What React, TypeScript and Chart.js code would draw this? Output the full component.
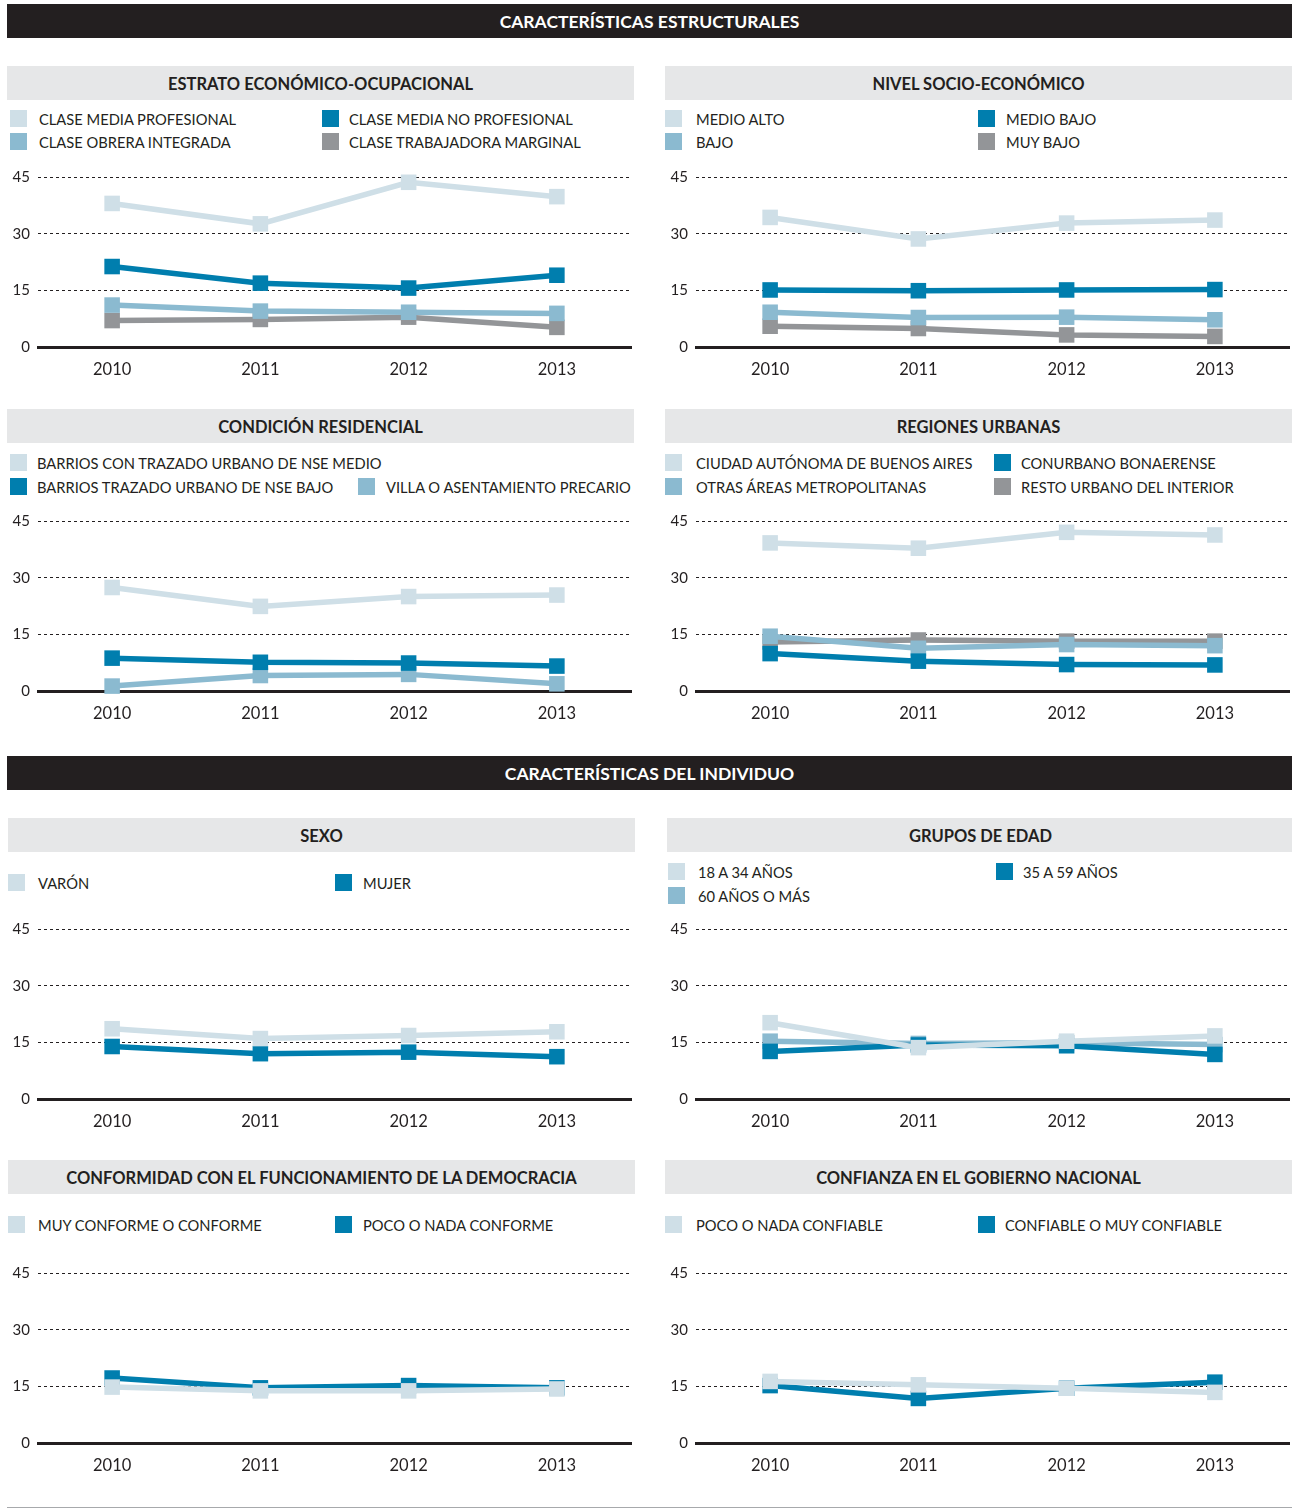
import React, { useEffect, useRef } from "react";
import { Chart, registerables } from "chart.js";
Chart.register(...registerables);

const years = ["2010", "2011", "2012", "2013"];
const yTickValues = [0, 15, 30, 45];

const LIGHT = "#cfdfe7";
const DARK = "#007eae";
const MID = "#8bbad0";
const GRAY = "#939598";
const INK = "#231f20";
const FONT = "Lato, 'Open Sans', sans-serif";

// Estrato económico-ocupacional
const claseMediaProfesional = [38.0, 32.6, 43.6, 39.8];
const claseMediaNoProfesional = [21.3, 16.9, 15.6, 19.0];
const claseObreraIntegrada = [11.1, 9.5, 9.2, 8.9];
const claseTrabajadoraMarginal = [7.0, 7.3, 7.9, 5.2];
// Nivel socio-económico
const medioAlto = [34.3, 28.6, 32.8, 33.6];
const medioBajo = [15.1, 14.9, 15.1, 15.2];
const bajo = [9.2, 7.8, 7.9, 7.2];
const muyBajo = [5.5, 4.9, 3.2, 2.8];
// Condición residencial
const nseMedio = [27.4, 22.4, 25.0, 25.4];
const nseBajo = [8.7, 7.6, 7.4, 6.6];
const villa = [1.3, 4.1, 4.4, 1.9];
// Regiones urbanas
const caba = [39.2, 37.8, 42.0, 41.3];
const conurbano = [9.9, 7.9, 7.0, 6.9];
const otrasAreas = [14.5, 11.3, 12.3, 12.0];
const restoInterior = [13.0, 13.5, 13.2, 13.2];
// Sexo
const varon = [18.6, 16.0, 16.8, 17.8];
const mujer = [13.9, 12.0, 12.4, 11.2];
// Grupos de edad
const edad18a34 = [20.2, 13.6, 15.3, 16.7];
const edad35a59 = [12.6, 14.3, 14.1, 11.8];
const edad60mas = [15.3, 14.7, 14.9, 14.4];
// Conformidad con la democracia
const muyConforme = [14.8, 13.8, 13.8, 14.3];
const pocoConforme = [17.2, 14.6, 15.2, 14.6];
// Confianza en el gobierno
const pocoConfiable = [16.3, 15.4, 14.5, 13.4];
const confiable = [15.2, 11.8, 14.5, 16.1];

type Series = { label: string; data: number[]; color: string };

const CANVAS_W = 635;
const CANVAS_H = 225;
const TOP_OFFSET = 17;

function LineChart({ left, gridTop, series }: { left: number; gridTop: number; series: Series[] }) {
  const ref = useRef<HTMLCanvasElement>(null);
  useEffect(() => {
    const chart = new Chart(ref.current!, {
      type: "line",
      data: {
        labels: years,
        datasets: series.map((s) => ({
          label: s.label,
          data: s.data,
          borderColor: s.color,
          backgroundColor: s.color,
          pointBackgroundColor: s.color,
          pointBorderColor: s.color,
          borderWidth: 5.5,
          pointStyle: "rect",
          pointRadius: 11,
          pointHoverRadius: 11,
          pointBorderWidth: 0,
          tension: 0,
          clip: false,
        })),
      },
      options: {
        animation: false,
        responsive: false,
        maintainAspectRatio: false,
        events: [],
        layout: { padding: { top: 10, right: 3, left: 0, bottom: 0 } },
        plugins: { legend: { display: false }, tooltip: { enabled: false } },
        scales: {
          x: {
            offset: true,
            grid: { display: false },
            border: { display: true, width: 3, color: INK },
            ticks: { padding: 5, color: INK, font: { family: FONT, size: 16.5 } },
            afterFit: (s: any) => {
              s.height = 38;
            },
          },
          y: {
            min: 0,
            max: 45,
            afterBuildTicks: (s: any) => {
              s.ticks = yTickValues.map((v) => ({ value: v }));
            },
            grid: {
              color: (ctx: any) => (ctx.tick && ctx.tick.value === 0 ? "rgba(0,0,0,0)" : INK),
              lineWidth: 1,
              drawTicks: false,
            },
            border: { display: false, dash: [3, 3] },
            ticks: { padding: 8, color: INK, font: { family: FONT, size: 15 } },
            afterFit: (s: any) => {
              s.width = 31;
            },
          },
        },
      } as any,
    });
    return () => chart.destroy();
  }, []);
  return (
    <canvas
      ref={ref}
      width={CANVAS_W}
      height={CANVAS_H}
      style={{ position: "absolute", left, top: gridTop - TOP_OFFSET, width: CANVAS_W, height: CANVAS_H }}
    />
  );
}

function SectionHeader({ top, text }: { top: number; text: string }) {
  return (
    <div
      style={{
        position: "absolute",
        left: 7,
        top,
        width: 1285,
        height: 34,
        background: INK,
        color: "#fff",
        fontFamily: FONT,
        fontWeight: 700,
        fontSize: 17.5,
        lineHeight: "36px",
        textAlign: "center",
      }}
    >
      {text}
    </div>
  );
}

function PanelTitle({ left, top, text }: { left: number; top: number; text: string }) {
  return (
    <div
      style={{
        position: "absolute",
        left,
        top,
        width: 627,
        height: 34,
        background: "#e6e7e8",
        color: INK,
        fontFamily: FONT,
        fontWeight: 700,
        fontSize: 16.5,
        lineHeight: "37px",
        textAlign: "center",
      }}
    >
      {text}
    </div>
  );
}

type LegendItem = { sx: number; tx: number; y: number; color: string; label: string };

function Legend({ items }: { items: LegendItem[] }) {
  return (
    <>
      {items.map((it, i) => (
        <React.Fragment key={i}>
          <div
            style={{
              position: "absolute",
              left: it.sx,
              top: it.y - 9,
              width: 17,
              height: 17,
              background: it.color,
            }}
          />
          <div
            style={{
              position: "absolute",
              left: it.tx,
              top: it.y - 10,
              height: 20,
              lineHeight: "20px",
              fontFamily: FONT,
              fontSize: 14.7,
              color: INK,
              whiteSpace: "nowrap",
            }}
          >
            {it.label}
          </div>
        </React.Fragment>
      ))}
    </>
  );
}

export default function App() {
  return (
    <div
      style={{
        position: "absolute",
        left: 0,
        top: 0,
        width: 1292,
        height: 1509,
        background: "#fff",
        overflow: "hidden",
      }}
    >
      <SectionHeader top={4} text="CARACTERÍSTICAS ESTRUCTURALES" />

      <PanelTitle left={7} top={66} text="ESTRATO ECONÓMICO-OCUPACIONAL" />
      <Legend
        items={[
          { sx: 10, tx: 39, y: 119, color: LIGHT, label: "CLASE MEDIA PROFESIONAL" },
          { sx: 322, tx: 349, y: 119, color: DARK, label: "CLASE MEDIA NO PROFESIONAL" },
          { sx: 10, tx: 39, y: 142, color: MID, label: "CLASE OBRERA INTEGRADA" },
          { sx: 322, tx: 349, y: 142, color: GRAY, label: "CLASE TRABAJADORA MARGINAL" },
        ]}
      />
      <LineChart
        left={7}
        gridTop={177}
        series={[
          { label: "CLASE MEDIA PROFESIONAL", data: claseMediaProfesional, color: LIGHT },
          { label: "CLASE MEDIA NO PROFESIONAL", data: claseMediaNoProfesional, color: DARK },
          { label: "CLASE OBRERA INTEGRADA", data: claseObreraIntegrada, color: MID },
          { label: "CLASE TRABAJADORA MARGINAL", data: claseTrabajadoraMarginal, color: GRAY },
        ]}
      />

      <PanelTitle left={665} top={66} text="NIVEL SOCIO-ECONÓMICO" />
      <Legend
        items={[
          { sx: 665, tx: 696, y: 119, color: LIGHT, label: "MEDIO ALTO" },
          { sx: 978, tx: 1006, y: 119, color: DARK, label: "MEDIO BAJO" },
          { sx: 665, tx: 696, y: 142, color: MID, label: "BAJO" },
          { sx: 978, tx: 1006, y: 142, color: GRAY, label: "MUY BAJO" },
        ]}
      />
      <LineChart
        left={665}
        gridTop={177}
        series={[
          { label: "MEDIO ALTO", data: medioAlto, color: LIGHT },
          { label: "MEDIO BAJO", data: medioBajo, color: DARK },
          { label: "BAJO", data: bajo, color: MID },
          { label: "MUY BAJO", data: muyBajo, color: GRAY },
        ]}
      />

      <PanelTitle left={7} top={409} text="CONDICIÓN RESIDENCIAL" />
      <Legend
        items={[
          { sx: 10, tx: 37, y: 463, color: LIGHT, label: "BARRIOS CON TRAZADO URBANO DE NSE MEDIO" },
          { sx: 10, tx: 37, y: 487, color: DARK, label: "BARRIOS TRAZADO URBANO DE NSE BAJO" },
          { sx: 358, tx: 386, y: 487, color: MID, label: "VILLA O ASENTAMIENTO PRECARIO" },
        ]}
      />
      <LineChart
        left={7}
        gridTop={521}
        series={[
          { label: "BARRIOS CON TRAZADO URBANO DE NSE MEDIO", data: nseMedio, color: LIGHT },
          { label: "BARRIOS TRAZADO URBANO DE NSE BAJO", data: nseBajo, color: DARK },
          { label: "VILLA O ASENTAMIENTO PRECARIO", data: villa, color: MID },
        ]}
      />

      <PanelTitle left={665} top={409} text="REGIONES URBANAS" />
      <Legend
        items={[
          { sx: 665, tx: 696, y: 463, color: LIGHT, label: "CIUDAD AUTÓNOMA DE BUENOS AIRES" },
          { sx: 994, tx: 1021, y: 463, color: DARK, label: "CONURBANO BONAERENSE" },
          { sx: 665, tx: 696, y: 487, color: MID, label: "OTRAS ÁREAS METROPOLITANAS" },
          { sx: 994, tx: 1021, y: 487, color: GRAY, label: "RESTO URBANO DEL INTERIOR" },
        ]}
      />
      <LineChart
        left={665}
        gridTop={521}
        series={[
          { label: "CIUDAD AUTÓNOMA DE BUENOS AIRES", data: caba, color: LIGHT },
          { label: "CONURBANO BONAERENSE", data: conurbano, color: DARK },
          { label: "OTRAS ÁREAS METROPOLITANAS", data: otrasAreas, color: MID },
          { label: "RESTO URBANO DEL INTERIOR", data: restoInterior, color: GRAY },
        ]}
      />

      <SectionHeader top={756} text="CARACTERÍSTICAS DEL INDIVIDUO" />

      <PanelTitle left={8} top={818} text="SEXO" />
      <Legend
        items={[
          { sx: 8, tx: 38, y: 883, color: LIGHT, label: "VARÓN" },
          { sx: 335, tx: 363, y: 883, color: DARK, label: "MUJER" },
        ]}
      />
      <LineChart
        left={7}
        gridTop={929}
        series={[
          { label: "VARÓN", data: varon, color: LIGHT },
          { label: "MUJER", data: mujer, color: DARK },
        ]}
      />

      <PanelTitle left={667} top={818} text="GRUPOS DE EDAD" />
      <Legend
        items={[
          { sx: 668, tx: 698, y: 872, color: LIGHT, label: "18 A 34 AÑOS" },
          { sx: 996, tx: 1023, y: 872, color: DARK, label: "35 A 59 AÑOS" },
          { sx: 668, tx: 698, y: 896, color: MID, label: "60 AÑOS O MÁS" },
        ]}
      />
      <LineChart
        left={665}
        gridTop={929}
        series={[
          { label: "18 A 34 AÑOS", data: edad18a34, color: LIGHT },
          { label: "35 A 59 AÑOS", data: edad35a59, color: DARK },
          { label: "60 AÑOS O MÁS", data: edad60mas, color: MID },
        ]}
      />

      <PanelTitle left={8} top={1160} text="CONFORMIDAD CON EL FUNCIONAMIENTO DE LA DEMOCRACIA" />
      <Legend
        items={[
          { sx: 8, tx: 38, y: 1225, color: LIGHT, label: "MUY CONFORME O CONFORME" },
          { sx: 335, tx: 363, y: 1225, color: DARK, label: "POCO O NADA CONFORME" },
        ]}
      />
      <LineChart
        left={7}
        gridTop={1273}
        series={[
          { label: "MUY CONFORME O CONFORME", data: muyConforme, color: LIGHT },
          { label: "POCO O NADA CONFORME", data: pocoConforme, color: DARK },
        ]}
      />

      <PanelTitle left={665} top={1160} text="CONFIANZA EN EL GOBIERNO NACIONAL" />
      <Legend
        items={[
          { sx: 665, tx: 696, y: 1225, color: LIGHT, label: "POCO O NADA CONFIABLE" },
          { sx: 978, tx: 1005, y: 1225, color: DARK, label: "CONFIABLE O MUY CONFIABLE" },
        ]}
      />
      <LineChart
        left={665}
        gridTop={1273}
        series={[
          { label: "POCO O NADA CONFIABLE", data: pocoConfiable, color: LIGHT },
          { label: "CONFIABLE O MUY CONFIABLE", data: confiable, color: DARK },
        ]}
      />

      <div
        style={{
          position: "absolute",
          left: 7,
          top: 1507,
          width: 1285,
          height: 1,
          background: "#a7a9ac",
        }}
      />
    </div>
  );
}
